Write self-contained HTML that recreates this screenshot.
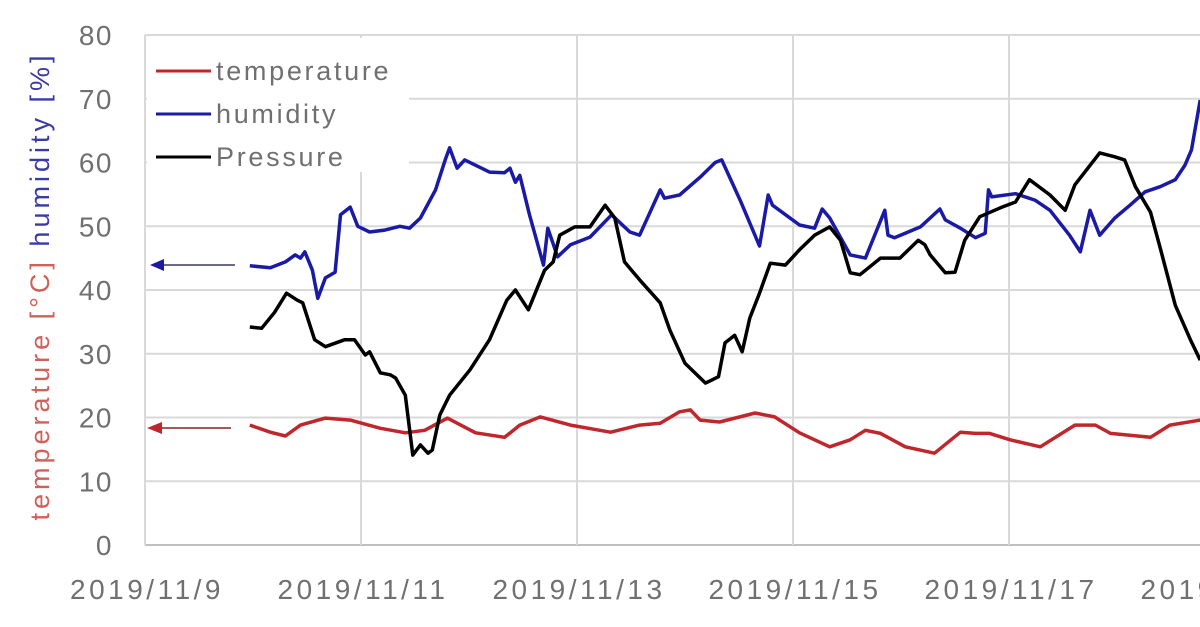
<!DOCTYPE html>
<html><head><meta charset="utf-8"><style>
html,body{margin:0;padding:0;background:#fff;width:1200px;height:627px;overflow:hidden}
svg{display:block;font-family:"Liberation Sans","Noto Sans CJK JP",sans-serif}
</style></head><body>
<svg id="chart" width="1200" height="627" viewBox="0 0 1200 627" xmlns="http://www.w3.org/2000/svg">
<g id="grid"></g>
<g id="yticks"></g>
<g id="xticks"></g>
<g id="series"></g>
<g>
<rect x="147" y="38" width="262" height="134" fill="#fff"/>
<g><line x1="156" y1="71" x2="211" y2="71" stroke="#c0272d" stroke-width="3"/><text x="216" y="80" font-size="27" fill="#707070" letter-spacing="2.7">temperature</text></g>
<g><line x1="156" y1="114" x2="211" y2="114" stroke="#1a1aa6" stroke-width="3"/><text x="216" y="123" font-size="27" fill="#707070" letter-spacing="2.7">humidity</text></g>
<g><line x1="156" y1="157" x2="211" y2="157" stroke="#000" stroke-width="3"/><text x="216" y="166" font-size="27" fill="#707070" letter-spacing="2.7">Pressure</text></g>
</g>
<g><line x1="160" y1="265" x2="235" y2="265" stroke="#6a6a8a" stroke-width="2"/><polygon points="150,265 164,259 164,271" fill="#1a1aa6"/></g>
<g><line x1="160" y1="428" x2="231" y2="428" stroke="#a05a5a" stroke-width="2"/><polygon points="147,428 162,422 162,434" fill="#c0272d"/></g>
<text transform="translate(49,288) rotate(-90)" text-anchor="middle" font-size="27" textLength="465" lengthAdjust="spacing"><tspan fill="#d0605a">temperature [°C] </tspan><tspan fill="#3a3aa6">humidity [%]</tspan></text>
</svg>
<script>
const yTicks=[0,10,20,30,40,50,60,70,80];
const xTickLabels=["2019/11/9","2019/11/11","2019/11/13","2019/11/15","2019/11/17","2019/11/19"];
const xTickDays=[0,2,4,6,8,10];
const humT=[0.97,1.16,1.30,1.39,1.44,1.48,1.55,1.60,1.67,1.76,1.81,1.90,1.97,2.08,2.22,2.36,2.45,2.55,2.69,2.78,2.82,2.89,2.96,3.19,3.33,3.38,3.43,3.47,3.56,3.69,3.73,3.82,3.94,4.12,4.32,4.49,4.58,4.77,4.81,4.95,5.14,5.28,5.34,5.51,5.69,5.77,5.81,6.06,6.20,6.27,6.34,6.53,6.67,6.85,6.88,6.94,7.18,7.36,7.41,7.55,7.69,7.78,7.81,7.84,8.06,8.24,8.38,8.56,8.66,8.75,8.84,8.98,9.12,9.26,9.40,9.54,9.63,9.69,9.77];
const humV=[43.8,43.5,44.4,45.5,45.0,46.0,43.1,38.7,41.9,42.8,51.8,53.0,50.0,49.1,49.4,50.0,49.7,51.3,55.7,60.4,62.3,59.1,60.4,58.5,58.4,59.1,56.9,58.0,51.8,43.9,49.7,45.2,47.1,48.3,51.8,49.1,48.6,55.7,54.4,54.9,57.7,60.0,60.4,54.1,46.9,54.9,53.3,50.2,49.7,52.7,51.3,45.5,45.0,52.5,48.6,48.2,49.9,52.7,51.0,49.7,48.2,48.9,55.7,54.6,55.1,54.1,52.5,48.6,46.0,52.5,48.6,51.3,53.3,55.4,56.2,57.3,59.6,62.0,69.8];
const presT=[0.97,1.08,1.20,1.31,1.41,1.46,1.57,1.67,1.85,1.94,2.04,2.08,2.18,2.27,2.32,2.41,2.48,2.55,2.62,2.66,2.73,2.82,3.01,3.19,3.35,3.43,3.55,3.70,3.78,3.84,3.98,4.12,4.26,4.35,4.44,4.58,4.77,4.86,5.00,5.19,5.25,5.31,5.37,5.46,5.53,5.60,5.69,5.79,5.93,6.06,6.20,6.34,6.44,6.53,6.62,6.81,6.99,7.16,7.22,7.27,7.41,7.50,7.59,7.73,7.92,8.06,8.19,8.38,8.52,8.61,8.84,8.98,9.07,9.17,9.31,9.40,9.54,9.68,9.77];
const presV=[34.2,34.0,36.5,39.5,38.4,38.0,32.2,31.1,32.2,32.2,29.8,30.3,27.0,26.7,26.2,23.5,14.1,15.7,14.4,14.9,20.4,23.5,27.5,32.2,38.4,40.0,36.9,43.1,44.4,48.6,49.9,49.9,53.3,51.3,44.4,41.6,38.0,33.7,28.5,25.4,25.9,26.4,31.7,32.9,30.3,35.6,39.5,44.2,43.9,46.3,48.6,49.9,47.8,42.7,42.4,45.0,45.0,47.8,47.1,45.5,42.7,42.8,47.8,51.5,52.9,53.8,57.3,54.9,52.5,56.5,61.5,60.9,60.4,56.2,52.2,46.6,37.6,32.2,29.0];
const tempT=[0.97,1.16,1.30,1.44,1.67,1.90,2.18,2.41,2.59,2.80,3.06,3.33,3.47,3.66,3.94,4.31,4.58,4.77,4.95,5.05,5.14,5.32,5.65,5.83,6.06,6.34,6.53,6.67,6.81,7.04,7.31,7.55,7.69,7.82,8.01,8.29,8.61,8.80,8.94,9.31,9.49,9.77];
const tempV=[18.8,17.7,17.1,18.8,19.9,19.6,18.3,17.6,18.0,19.9,17.6,16.9,18.8,20.1,18.8,17.7,18.8,19.1,20.9,21.2,19.6,19.3,20.7,20.1,17.6,15.4,16.5,18.0,17.5,15.4,14.4,17.7,17.5,17.5,16.5,15.4,18.8,18.8,17.5,16.9,18.8,19.6];

const NS="http://www.w3.org/2000/svg";
const X0=145,PX_PER_DAY=108,Y0=545,PX_PER_UNIT=6.375;
function xs(d){return X0+d*PX_PER_DAY;}
function ys(v){return Y0-v*PX_PER_UNIT;}
function mk(tag,attrs,parent){const e=document.createElementNS(NS,tag);for(const k in attrs)e.setAttribute(k,attrs[k]);parent.appendChild(e);return e;}
const grid=document.getElementById('grid'),yt=document.getElementById('yticks'),xt=document.getElementById('xticks'),ser=document.getElementById('series');
yTicks.forEach(v=>{
  const l=mk('line',{x1:X0,x2:1200,y1:ys(v),y2:ys(v),stroke:v===0?'#bfbfbf':'#d9d9d9','stroke-width':2},grid);
  
  
  const t=mk('text',{x:113,y:ys(v)+10,'text-anchor':'end','font-size':28,fill:'#707070','letter-spacing':1.5},yt);
  t.textContent=v;
  
  
});
xTickDays.forEach((d,i)=>{
  const l=mk('line',{x1:xs(d),x2:xs(d),y1:ys(80),y2:Y0,stroke:'#d9d9d9','stroke-width':2},grid);
  
  
  const t=mk('text',{x:xs(d)+2,y:599,'text-anchor':'middle','font-size':28,fill:'#707070','letter-spacing':3.5},xt);
  t.textContent=xTickLabels[i];
  
  
});
function line(T,V,color,name){
  const p=mk('polyline',{points:T.map((t,i)=>xs(t).toFixed(1)+','+ys(V[i]).toFixed(1)).join(' '),fill:'none',stroke:color,'stroke-width':3.5,'stroke-linejoin':'round'},ser);
  
  
}
line(tempT,tempV,'#c0272d','temperature-line');
line(humT,humV,'#1a1aa6','humidity-line');
line(presT,presV,'#000','pressure-line');
</script>
</body></html>
